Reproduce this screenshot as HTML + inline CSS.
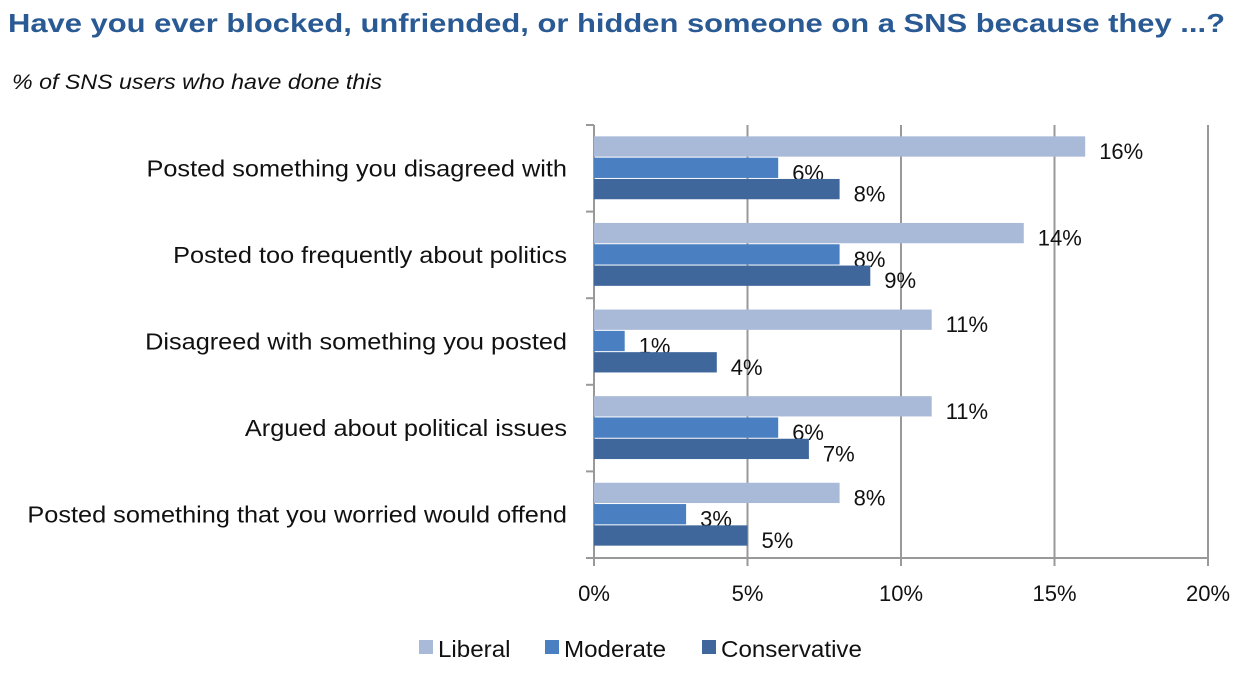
<!DOCTYPE html>
<html><head><meta charset="utf-8"><style>
body{margin:0;background:#fff;width:1243px;height:672px;overflow:hidden;font-family:"Liberation Sans",sans-serif}
</style></head><body>
<svg width="1243" height="672" xmlns="http://www.w3.org/2000/svg">
<text x="8" y="32" font-size="26" font-weight="bold" fill="#2a5a94" textLength="1217" lengthAdjust="spacingAndGlyphs">Have you ever blocked, unfriended, or hidden someone on a SNS because they ...?</text>
<text x="12" y="89" font-size="21" font-style="italic" fill="#111" textLength="370" lengthAdjust="spacingAndGlyphs">% of SNS users who have done this</text>
<g id="plot"></g>
<g id="legend"></g>
</svg>
<script>
const categories=["Posted something you disagreed with","Posted too frequently about politics","Disagreed with something you posted","Argued about political issues","Posted something that you worried would offend"];
const liberal=[16,14,11,11,8];
const moderate=[6,8,1,6,3];
const conservative=[8,9,4,7,5];
const ticks=[0,5,10,15,20];
const seriesNames=["Liberal","Moderate","Conservative"];
const colors=["#a9bad9","#4a7fc1","#3f679c"];
const series=[liberal,moderate,conservative];
const NS="http://www.w3.org/2000/svg";
const x0=594,x1=1208,yTop=125,yBot=558;
const xs=v=>x0+(v/20)*(x1-x0);
const rowH=(yBot-yTop)/categories.length;
const barH=21.3;
const plot=document.getElementById('plot');
function mk(tag,attrs,parent){const e=document.createElementNS(NS,tag);for(const k in attrs)e.setAttribute(k,attrs[k]);(parent||plot).appendChild(e);return e;}
function widen(t,f){const w=t.getComputedTextLength();t.setAttribute('textLength',w*f);t.setAttribute('lengthAdjust','spacingAndGlyphs');}
ticks.forEach(t=>{
 const g=mk('line',{x1:xs(t),x2:xs(t),y1:yTop,y2:yBot+8,stroke:'#999','stroke-width':2});
 
 
 const l=mk('text',{x:xs(t),y:yBot+43,'text-anchor':'middle','font-size':22,fill:'#111'});
 l.textContent=t+'%';
 
 
});
const ax=mk('line',{x1:x0-8,x2:x1,y1:yBot,y2:yBot,stroke:'#999','stroke-width':2});


const ay=mk('line',{x1:x0,x2:x0,y1:yTop,y2:yBot,stroke:'#999','stroke-width':2});


for(let i=0;i<=categories.length;i++){
 const tk=mk('line',{x1:x0-8,x2:x0,y1:yTop+i*rowH,y2:yTop+i*rowH,stroke:'#999','stroke-width':2});
 
 
}
categories.forEach((c,i)=>{
 const top=yTop+i*rowH+(rowH-3*barH)/2;
 const cl=mk('text',{x:567,y:yTop+i*rowH+rowH/2+8,'text-anchor':'end','font-size':23,fill:'#111'});
 cl.textContent=c;
 
 
 widen(cl,1.1);
 series.forEach((s,j)=>{
  const y=top+j*barH;
  const r=mk('rect',{x:x0,y:y,width:xs(s[i])-x0,height:barH-1,fill:colors[j]});
  
  
  const t=mk('text',{x:xs(s[i])+14,y:y+barH/2+12,'font-size':22,fill:'#111'});
  t.textContent=s[i]+'%';
  
  
 });
});
const lg=document.getElementById('legend');
const lx=[419,545,702];
seriesNames.forEach((n,j)=>{
 const r=mk('rect',{x:lx[j],y:640,width:14,height:14,fill:colors[j]},lg);
 
 
 const t=mk('text',{x:lx[j]+19,y:657,'font-size':23,fill:'#111'},lg);
 t.textContent=n;
 
 
 widen(t,1.05);
});
</script>
</body></html>
